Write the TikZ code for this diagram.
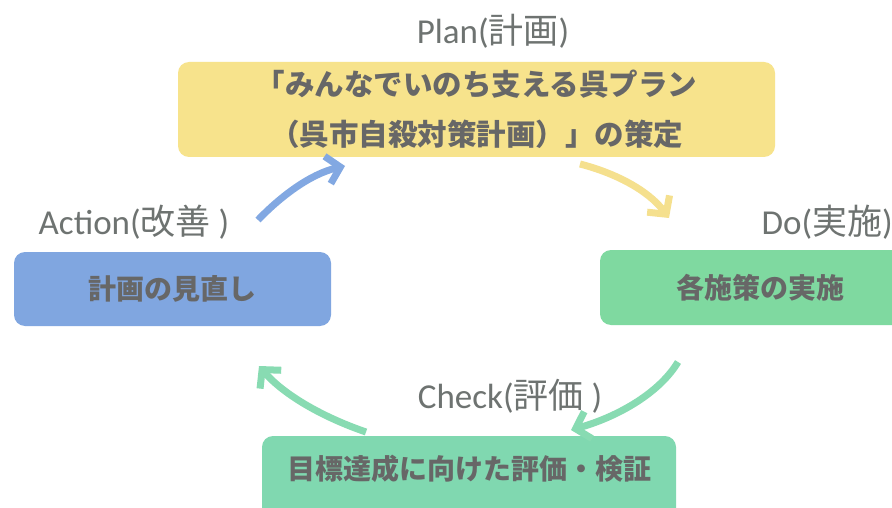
\documentclass[tikz,border=0pt]{standalone}
\usepackage{fontspec}
\setmainfont{Carlito}
\newfontfamily\jp{Noto Sans CJK JP}
\usetikzlibrary{arrows.meta}
\definecolor{planfill}{HTML}{F7E38C}
\definecolor{actfill}{HTML}{80A6E0}
\definecolor{dofill}{HTML}{7FD9A0}
\definecolor{chkfill}{HTML}{80D8B0}
\definecolor{lblgray}{HTML}{6E7371}
\definecolor{boxtxt}{HTML}{676767}
\definecolor{yarrow}{HTML}{F5E08E}
\definecolor{barrow}{HTML}{82A8E2}
\definecolor{garrow}{HTML}{88DBB2}
\tikzset{
  pbox/.style={rounded corners=11pt, inner sep=0pt, text=boxtxt, align=center,
    font=\jp\bfseries\fontsize{28}{50}\selectfont},
  lbl/.style={text=lblgray, inner sep=0pt, font=\fontsize{35}{38}\selectfont},
  cyc/.style={line width=7pt, -{Straight Barb[length=13pt, width=28pt, line width=7pt]}},
}
\begin{document}
\begin{tikzpicture}[x=1pt,y=-1pt]
\useasboundingbox (0,0) rectangle (892,508);
\fill[white] (0,0) rectangle (892,508);
\clip (0,0) rectangle (892,508);
% boxes
\node[pbox, fill=planfill, minimum width=597pt, minimum height=95pt,
  font=\jp\bfseries\fontsize{29.5}{50}\selectfont] (plan) at (476.5,109.5)
  {「みんなでいのち支える呉プラン\\（呉市自殺対策計画）」の策定};
\node[pbox, fill=actfill, minimum width=317pt, minimum height=74pt] (act) at (172.5,289) {計画の見直し};
\node[pbox, fill=dofill, minimum width=320pt, minimum height=75pt] (do) at (760,287.5) {各施策の実施};
\node[pbox, fill=chkfill, minimum width=414pt, minimum height=90pt] (chk) at (469,481) {};
\node[pbox] (chkt) at (469,469) {目標達成に向けた評価・検証};
% labels
\node[lbl] (lplan) at (493,31) {Plan({\jp 計画})};
\node[lbl] (lact) at (134,222) {Action({\jp 改善} )};
\node[lbl, anchor=east] (ldo) at (893,222) {Do({\jp 実施})};
\node[lbl] (lchk) at (510,396) {Check({\jp 評価} )};
% arrow ends
\coordinate (b0) at (258,220); \coordinate (b1) at (345,166);
\coordinate (y0) at (580,164); \coordinate (y1) at (669,218);
\coordinate (g0) at (678,362); \coordinate (g1) at (571,430);
\coordinate (h0) at (366,432); \coordinate (h1) at (259,366);
\draw[cyc, barrow] (b0) .. controls (280,197) and (310,174) .. (b1);
\draw[cyc, yarrow] (y0) .. controls (615,173) and (648,190) .. (y1);
\draw[cyc, garrow] (g0) .. controls (660,392) and (620,416) .. (g1);
\draw[cyc, garrow] (h0) .. controls (325,418) and (285,396) .. (h1);
\end{tikzpicture}
\end{document}
